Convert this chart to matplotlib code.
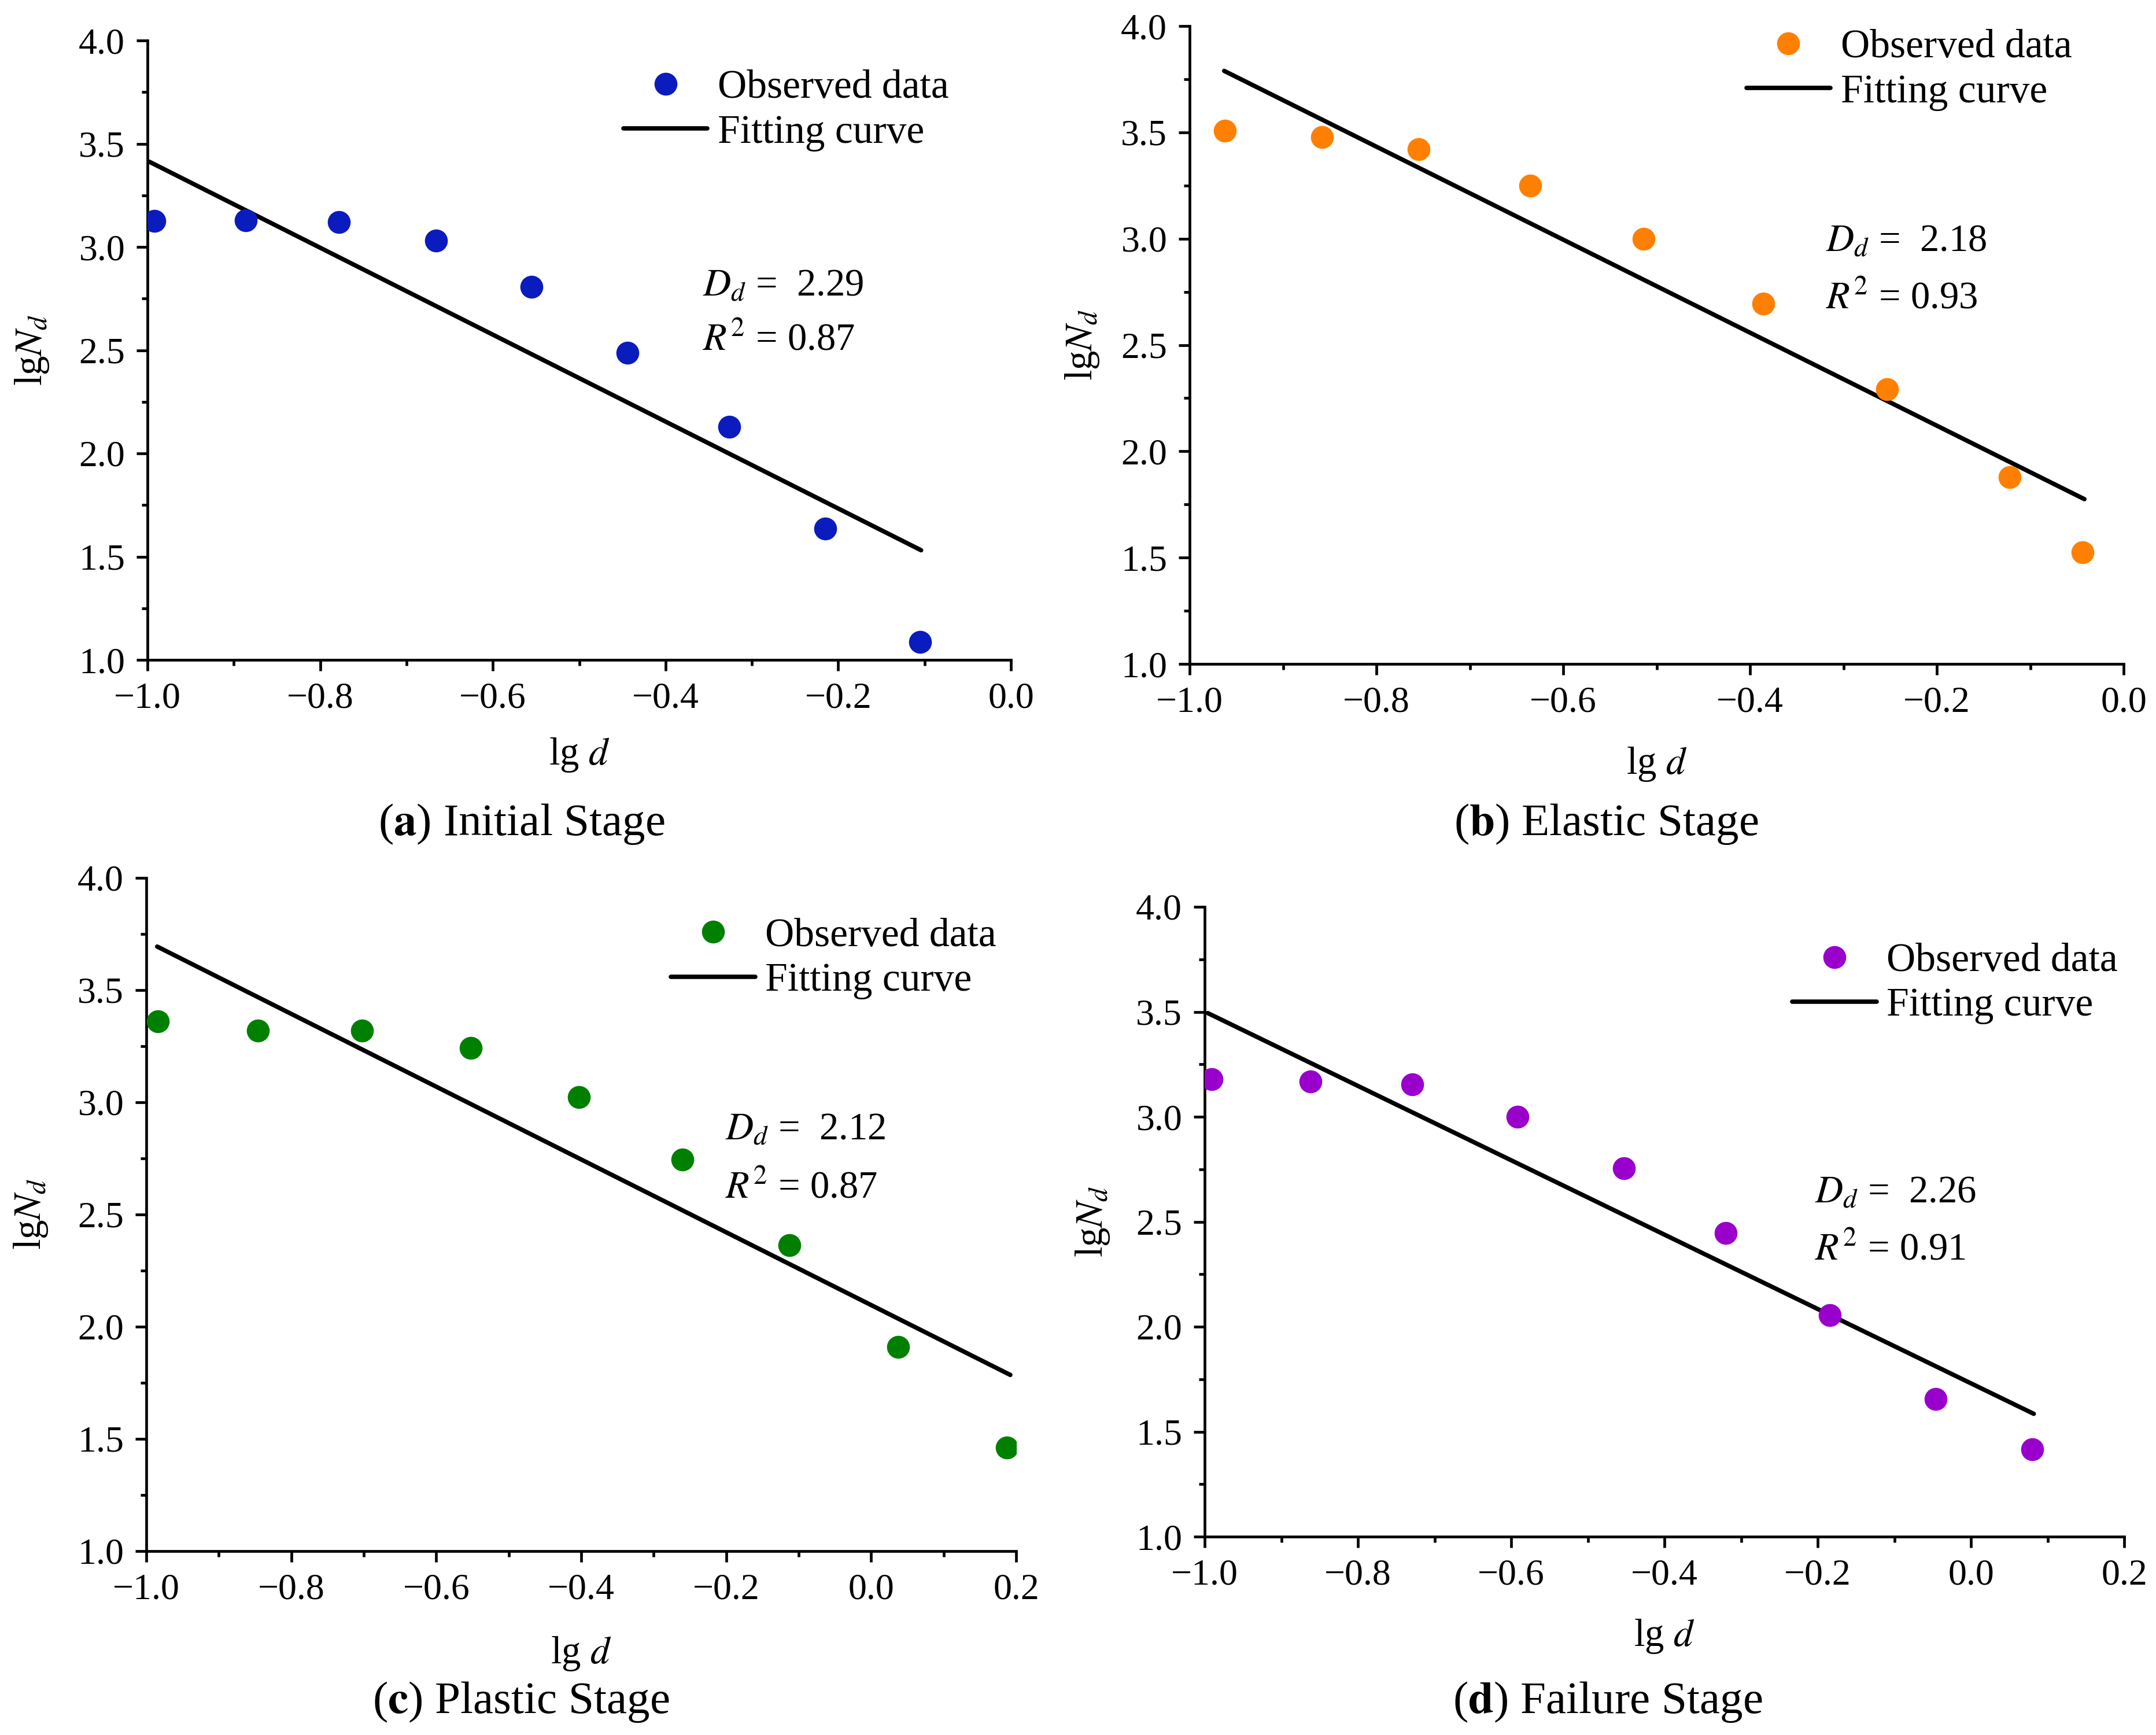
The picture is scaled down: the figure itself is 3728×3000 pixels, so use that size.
import matplotlib
matplotlib.use('Agg')
import matplotlib.pyplot as plt
from matplotlib.ticker import MultipleLocator

plt.rcParams['font.family'] = ['Liberation Serif', 'DejaVu Serif']
plt.rcParams['mathtext.fontset'] = 'stix'

# datos: lg d, lg N_d y la recta de ajuste (extremos)
x_a = [-0.992, -0.886, -0.778, -0.666, -0.555, -0.444, -0.326, -0.215, -0.105]
y_a = [3.126, 3.129, 3.121, 3.032, 2.807, 2.488, 2.129, 1.635, 1.086]
fit_x_a = [-0.998, -0.104]
fit_y_a = [3.413, 1.531]

x_b = [-0.962, -0.858, -0.755, -0.635, -0.514, -0.386, -0.253, -0.122, -0.044]
y_b = [3.508, 3.477, 3.422, 3.248, 2.998, 2.694, 2.293, 1.879, 1.526]
fit_x_b = [-0.963, -0.042]
fit_y_b = [3.789, 1.775]

x_c = [-0.984, -0.846, -0.702, -0.552, -0.403, -0.260, -0.113, 0.037, 0.187]
y_c = [3.360, 3.320, 3.320, 3.243, 3.024, 2.744, 2.364, 1.910, 1.461]
fit_x_c = [-0.985, 0.192]
fit_y_c = [3.694, 1.785]

x_d = [-0.991, -0.862, -0.729, -0.592, -0.453, -0.320, -0.184, -0.046, 0.080]
y_d = [3.178, 3.167, 3.154, 3.001, 2.756, 2.446, 2.056, 1.656, 1.417]
fit_x_d = [-0.996, 0.082]
fit_y_d = [3.494, 1.585]

dd_vals = ['2.29', '2.18', '2.12', '2.26']
r2_vals = ['0.87', '0.93', '0.87', '0.91']
letras = ['a', 'b', 'c', 'd']
etapas = ['Initial Stage', 'Elastic Stage', 'Plastic Stage', 'Failure Stage']
colores = ['#0A1CBE', '#FF8000', '#008000', '#9900CC']
xlims = [(-1.0, 0.0), (-1.0, 0.0), (-1.0, 0.2), (-1.0, 0.2)]

W, H = 3728, 3000
fig = plt.figure(figsize=(W / 100, H / 100), dpi=100)

# cajas de los ejes en pixeles (izq, der, arriba, abajo)
cajas = [(255, 1748, 70, 1141), (2057, 3672, 45, 1148),
         (253, 1757, 1518, 2682), (2083, 3673, 1568, 2657)]
# posicion del texto D_d (datos) y de la leyenda (fraccion de ejes)
pos_txt = [(-0.357, 2.81, 2.547), (-0.319, 2.985, 2.717),
           (-0.201, 2.876, 2.616), (-0.204, 2.636, 2.364)]
pos_leg = [(0.551, 0.887), (0.596, 0.931), (0.603, 0.880), (0.639, 0.878)]
xlab_off = [164, 173, 177, 172]
ylab_off = [199, 185, 200, 193]
cap_pos = [(0.242, 0.525), (0.745, 0.525), (0.2415, 0.019), (0.7457, 0.019)]

datos = [(x_a, y_a, fit_x_a, fit_y_a), (x_b, y_b, fit_x_b, fit_y_b),
         (x_c, y_c, fit_x_c, fit_y_c), (x_d, y_d, fit_x_d, fit_y_d)]

for i in range(4):
    l, r, t, b = cajas[i]
    ax = fig.add_axes([l / W, 1 - b / H, (r - l) / W, (b - t) / H])
    xs, ys, fx, fy = datos[i]
    ax.plot(xs, ys, 'o', color=colores[i], markersize=28.5, markeredgewidth=0,
            label='Observed data', zorder=3)
    ax.plot(fx, fy, '-', color='black', linewidth=5.5, solid_capstyle='round',
            label='Fitting curve', zorder=2)
    ax.set_xlim(*xlims[i])
    ax.set_ylim(1.0, 4.0)
    ax.xaxis.set_major_locator(MultipleLocator(0.2))
    ax.xaxis.set_minor_locator(MultipleLocator(0.1))
    ax.yaxis.set_major_locator(MultipleLocator(0.5))
    ax.yaxis.set_minor_locator(MultipleLocator(0.25))
    ax.xaxis.set_major_formatter(plt.FuncFormatter(lambda v, p: ('%.1f' % v).replace('-', '\u2212')))
    ax.yaxis.set_major_formatter(plt.FuncFormatter(lambda v, p: '%.1f' % v))
    for s in ['top', 'right']:
        ax.spines[s].set_visible(False)
    for s in ['left', 'bottom']:
        ax.spines[s].set_linewidth(3.4)
    ax.tick_params(which='major', direction='out', length=14, width=3.4,
                   pad=14, labelsize=46)
    ax.tick_params(which='minor', direction='out', length=7, width=3.4)

    ax.set_xlabel('lg $d$', fontsize=48)
    ax.xaxis.set_label_coords(0.5, -xlab_off[i] / (b - t))
    ax.xaxis.label.set_va('center')
    ax.set_ylabel('lg$N_d$', fontsize=48)
    ax.yaxis.set_label_coords(-ylab_off[i] / (r - l), 0.5)
    ax.yaxis.label.set_va('center')

    tx, ty1, ty2 = pos_txt[i]
    ax.text(tx, ty1, '$D_d$ =  ' + dd_vals[i], fontsize=48, va='center', ha='left')
    ax.text(tx, ty2, '$R^2$ = ' + r2_vals[i], fontsize=48, va='center', ha='left')

    ax.legend(loc='center left', bbox_to_anchor=pos_leg[i], frameon=False,
              fontsize=50, borderpad=0, borderaxespad=0, handlelength=2.1,
              handletextpad=0.25, labelspacing=0.2, markerscale=1.0)

    cx, cy = cap_pos[i]
    fig.text(cx, cy, r'($\mathbf{' + letras[i] + r'}$) ' + etapas[i],
             fontsize=57, ha='center', va='center')

fig.savefig('out.png', dpi=100)
